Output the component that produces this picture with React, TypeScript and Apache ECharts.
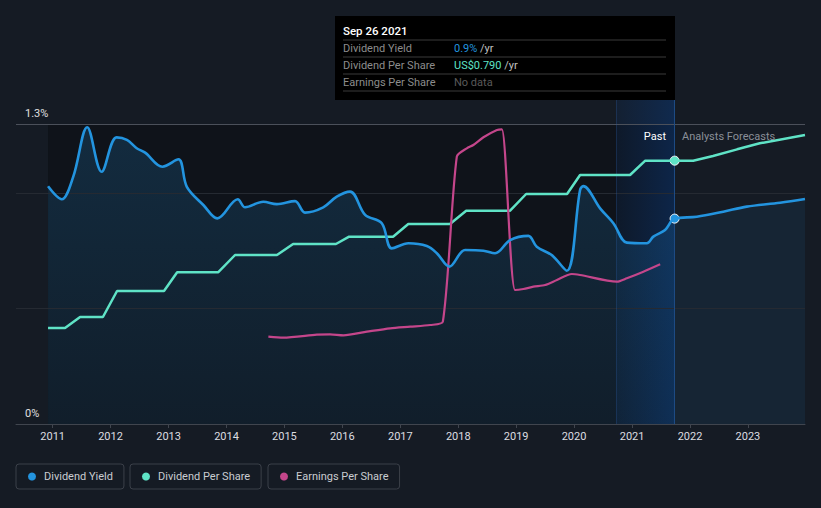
import React, { useEffect, useRef } from "react";
import * as echarts from "echarts";

// ---- data ----
const yieldPastDates = [
  "2010-12-03", "2011-02-27", "2011-05-11", "2011-08-07", "2011-11-06", "2012-02-08", "2012-04-13",
  "2012-06-14", "2012-08-06", "2012-11-23", "2013-03-04", "2013-04-26", "2013-08-08", "2013-11-04",
  "2014-03-13", "2014-04-28", "2014-08-21", "2014-11-14", "2015-03-09", "2015-05-11", "2015-09-03",
  "2015-11-27", "2016-02-19", "2016-05-24", "2016-09-06", "2016-11-08", "2017-02-21", "2017-06-17",
  "2017-08-19", "2017-11-06", "2018-02-13", "2018-06-09", "2018-08-21", "2018-11-24", "2019-03-19",
  "2019-05-11", "2019-08-13", "2019-11-16", "2020-02-08", "2020-02-28", "2020-06-16", "2020-09-05",
  "2020-11-29", "2021-04-04", "2021-05-15", "2021-07-28", "2021-09-26",
];
const yieldPastValues = [
  1.03, 0.974, 1.072, 1.286, 1.093, 1.242, 1.231,
  1.195, 1.176, 1.115, 1.147, 1.028, 0.949, 0.891,
  0.974, 0.939, 0.963, 0.953, 0.966, 0.916, 0.939,
  0.985, 1.007, 0.906, 0.87, 0.761, 0.783, 0.771,
  0.74, 0.682, 0.754, 0.751, 0.74, 0.797, 0.815,
  0.768, 0.732, 0.664, 1.014, 1.031, 0.932, 0.87,
  0.786, 0.783, 0.812, 0.841, 0.89,
];
const yieldForecastDates = ["2021-09-26", "2022-02-13", "2022-07-30", "2022-12-25", "2023-07-23", "2023-12-27"];
const yieldForecastValues = [0.89, 0.898, 0.92, 0.942, 0.959, 0.975];

const dpsDates = [
  "2010-12-03", "2011-03-20", "2011-06-23", "2011-11-14", "2012-02-11", "2012-12-03", "2013-02-24",
  "2013-11-09", "2014-02-24", "2014-11-15", "2015-02-25", "2015-11-22", "2016-02-13", "2016-11-16",
  "2017-02-20", "2017-11-10", "2018-02-20", "2018-11-24", "2019-03-05", "2019-11-18", "2020-02-08",
  "2020-12-19", "2021-03-25", "2021-09-26", "2022-01-21", "2022-05-26", "2022-10-25", "2023-03-17",
  "2023-12-27",
];
const dpsValues = [
  0.288, 0.288, 0.321, 0.321, 0.399, 0.399, 0.455,
  0.455, 0.507, 0.507, 0.54, 0.54, 0.562, 0.562,
  0.6, 0.6, 0.64, 0.64, 0.69, 0.69, 0.747,
  0.747, 0.79, 0.79, 0.79, 0.804, 0.824, 0.842,
  0.867,
];

const epsDates = [
  "2014-09-22", "2014-12-25", "2015-07-24", "2015-10-16", "2016-01-08", "2016-06-04", "2016-10-29",
  "2017-03-04", "2017-07-08", "2017-09-26", "2017-12-23", "2018-02-24", "2018-04-06", "2018-06-09",
  "2018-09-02", "2018-10-03", "2018-12-25", "2019-02-16", "2019-04-20", "2019-07-03", "2019-09-15",
  "2019-12-18", "2020-02-08", "2020-09-27", "2020-11-29", "2021-03-13", "2021-06-27",
];
const epsValues = [
  0.873, 0.863, 0.893, 0.897, 0.887, 0.923, 0.957,
  0.973, 0.99, 1.023, 2.673, 2.757, 2.79, 2.867,
  2.94, 2.947, 1.34, 1.35, 1.373, 1.39, 1.44,
  1.5, 1.49, 1.423, 1.457, 1.523, 1.597,
];

const yAxisTickLabels = ["0%", "1.3%"];
const xAxisMin = "2010-05-15";
const xAxisMax = "2023-12-27";
const nowDate = "2021-09-26";
const bandStart = "2020-09-26";
const nowYield = 0.89;
const nowDps = 0.79;

const BLUE = "#2394df";
const TEAL = "#5fe3c6";
const PINK = "#c4468b";
const BG = "#151b24";
const FONT = "Roboto, 'Noto Sans', sans-serif";

const zip = (d: string[], v: number[]) => d.map((x, i) => [x, v[i]]);

export default function App() {
  const ref = useRef<HTMLDivElement>(null);
  useEffect(() => {
    document.body.style.margin = "0";
    document.body.style.background = BG;
    const chart = echarts.init(ref.current!, undefined, { renderer: "svg" });
    const YEAR = 365 * 24 * 3600 * 1000;
    const legendBase = {
      top: 464,
      itemWidth: 8,
      itemHeight: 8,
      icon: "circle",
      borderColor: "#3b4049",
      borderWidth: 1,
      borderRadius: 3,
      padding: [7, 11, 7, 12],
      selectedMode: false,
      textStyle: { color: "#c9ccd1", fontSize: 11, fontFamily: FONT, padding: [0, 0, 0, 3] },
    };
    const yieldAll = zip(yieldPastDates, yieldPastValues).concat(
      zip(yieldForecastDates.slice(1), yieldForecastValues.slice(1))
    );
    const txt = (x: number, y: number, style: any) => ({
      type: "text",
      x,
      y,
      z: 100,
      style: { fontSize: 11, fontFamily: FONT, verticalAlign: "middle", ...style },
    });
    chart.setOption({
      animation: false,
      backgroundColor: BG,
      textStyle: { fontFamily: FONT },
      grid: { left: 16, right: 16, top: 100, bottom: 84 },
      legend: [
        { ...legendBase, left: 16, data: ["Dividend Yield"] },
        { ...legendBase, left: 130, data: ["Dividend Per Share"] },
        { ...legendBase, left: 268, data: ["Earnings Per Share"] },
      ],
      xAxis: {
        type: "time",
        min: xAxisMin,
        max: xAxisMax,
        minInterval: YEAR,
        maxInterval: YEAR,
        axisLine: { lineStyle: { color: "#40454e" } },
        axisTick: { show: true, length: 4, lineStyle: { color: "#40454e" } },
        splitLine: { show: false },
        axisLabel: {
          color: "#dcdde0",
          fontSize: 11,
          margin: 7,
          formatter: (val: number) => {
            const d = new Date(val);
            return d.getMonth() === 0 && d.getDate() === 1 ? String(d.getFullYear()) : "";
          },
        },
      },
      yAxis: [
        { type: "value", min: 0, max: 1.404, show: false, splitLine: { show: false } },
        { type: "value", min: 0, max: 0.972, show: false, splitLine: { show: false } },
        { type: "value", min: 0, max: 3.24, show: false, splitLine: { show: false } },
      ],
      graphic: [
        { type: "rect", z: 100, shape: { x: 335, y: 16, width: 340, height: 84 }, style: { fill: "#000" } },
        txt(343, 31, { text: "Sep 26 2021", fill: "#fff", fontSize: 11.5, fontWeight: 500 }),
        ...[40, 57, 74, 91].map((y) => ({ type: "line", z: 100, shape: { x1: 343, y1: y, x2: 666, y2: y }, style: { stroke: "#3a3a3a", lineWidth: 1 } })),
        txt(343, 48.5, { text: "Dividend Yield", fill: "#8c8c8c" }),
        txt(343, 65.5, { text: "Dividend Per Share", fill: "#8c8c8c" }),
        txt(343, 82.5, { text: "Earnings Per Share", fill: "#8c8c8c" }),
        txt(454, 48.5, { text: "{a|0.9%}{b| /yr}", rich: { a: { fill: BLUE, fontSize: 11, fontFamily: FONT }, b: { fill: "#c0c0c0", fontSize: 11, fontFamily: FONT } } }),
        txt(454, 65.5, { text: "{a|US$0.790}{b| /yr}", rich: { a: { fill: TEAL, fontSize: 11, fontFamily: FONT }, b: { fill: "#c0c0c0", fontSize: 11, fontFamily: FONT } } }),
        txt(454, 82.5, { text: "No data", fill: "#5a5a5a" }),
        txt(666, 136, { text: "Past", fill: "#fff", align: "right" }),
        txt(682, 136, { text: "Analysts Forecasts", fill: "#8a8f98" }),
      ],
      series: [
        {
          name: "bg",
          type: "line",
          z: 1,
          data: [],
          markArea: {
            silent: true,
            itemStyle: { color: "#0f131a" },
            data: [[{ xAxis: yieldPastDates[0], yAxis: 0 }, { xAxis: nowDate, yAxis: 1.3 }]],
          },
        },
        {
          name: "gridlines",
          type: "line",
          z: 2,
          data: [],
          markLine: {
            silent: true,
            symbol: ["none", "none"],
            data: [
              { yAxis: 0.5, lineStyle: { color: "#252a32", width: 1, type: "solid" }, label: { show: false } },
              { yAxis: 1.0, lineStyle: { color: "#252a32", width: 1, type: "solid" }, label: { show: false } },
              {
                yAxis: 1.3,
                lineStyle: { color: "#4b505a", width: 1, type: "solid" },
                label: { show: true, formatter: yAxisTickLabels[1], position: "insideStartTop", color: "#e0e0e0", fontSize: 11, distance: [9, 5] },
              },
              {
                yAxis: 0,
                lineStyle: { color: "rgba(0,0,0,0)", width: 1, type: "solid" },
                label: { show: true, formatter: yAxisTickLabels[0], position: "insideStartTop", color: "#e0e0e0", fontSize: 11, distance: [9, 5] },
              },
            ],
          },
        },
        {
          name: "yieldAreaPast",
          type: "line",
          z: 3,
          smooth: 0.35,
          showSymbol: false,
          lineStyle: { width: 0 },
          data: zip(yieldPastDates, yieldPastValues),
          areaStyle: {
            color: new echarts.graphic.LinearGradient(0, 0, 0, 1, [
              { offset: 0, color: "rgba(35,148,223,0.27)" },
              { offset: 1, color: "rgba(35,148,223,0.12)" },
            ]),
          },
        },
        {
          name: "yieldAreaForecast",
          type: "line",
          z: 3,
          smooth: 0.35,
          showSymbol: false,
          lineStyle: { width: 0 },
          data: zip(yieldForecastDates, yieldForecastValues),
          areaStyle: { color: "rgba(35,148,223,0.13)" },
        },
        {
          name: "band",
          type: "line",
          z: 4,
          data: [],
          markArea: {
            silent: true,
            itemStyle: {
              color: new echarts.graphic.LinearGradient(0, 0, 1, 0, [
                { offset: 0, color: "rgba(10,60,130,0.15)" },
                { offset: 1, color: "rgba(10,60,130,0.45)" },
              ]),
            },
            data: [[{ xAxis: bandStart }, { xAxis: nowDate }]],
          },
          markLine: {
            silent: true,
            symbol: ["none", "none"],
            label: { show: false },
            data: [
              { xAxis: bandStart, lineStyle: { color: "rgba(40,90,160,0.35)", width: 1, type: "solid" } },
              { xAxis: nowDate, lineStyle: { color: "#1d4b84", width: 1, type: "solid" } },
            ],
          },
        },
        {
          name: "Dividend Per Share",
          type: "line",
          z: 5,
          yAxisIndex: 1,
          showSymbol: false,
          color: TEAL,
          itemStyle: { color: TEAL },
          lineStyle: { color: TEAL, width: 2.5 },
          data: zip(dpsDates, dpsValues),
          markPoint: {
            symbol: "circle",
            symbolSize: 9,
            label: { show: false },
            itemStyle: { color: TEAL, borderColor: "#fff", borderWidth: 1 },
            data: [{ coord: [nowDate, nowDps] }],
          },
        },
        {
          name: "Earnings Per Share",
          type: "line",
          z: 5,
          yAxisIndex: 2,
          smooth: 0.25,
          showSymbol: false,
          color: PINK,
          itemStyle: { color: PINK },
          lineStyle: { color: PINK, width: 2.2 },
          data: zip(epsDates, epsValues),
        },
        {
          name: "Dividend Yield",
          type: "line",
          z: 6,
          smooth: 0.35,
          showSymbol: false,
          color: BLUE,
          itemStyle: { color: BLUE },
          lineStyle: { color: BLUE, width: 2.6 },
          data: yieldAll,
          markPoint: {
            symbol: "circle",
            symbolSize: 9,
            label: { show: false },
            itemStyle: { color: BLUE, borderColor: "#fff", borderWidth: 1 },
            data: [{ coord: [nowDate, nowYield] }],
          },
        },
      ],
    });
    return () => chart.dispose();
  }, []);
  return <div ref={ref} style={{ width: 821, height: 508, background: BG }} />;
}
